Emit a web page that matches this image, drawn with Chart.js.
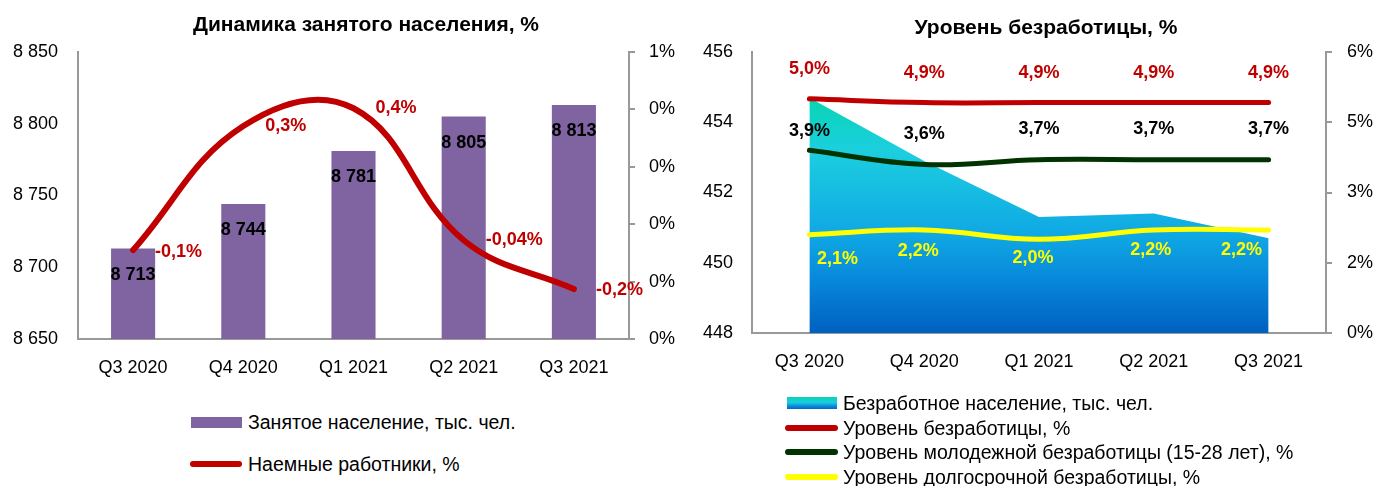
<!DOCTYPE html>
<html>
<head>
<meta charset="utf-8">
<script src="https://cdn.jsdelivr.net/npm/chart.js@4.4.1/dist/chart.umd.min.js"></script>
<style>
    body { margin: 0; background: #fff; font-family: 'Liberation Sans', Arial, sans-serif; }
    #wrap { position: relative; width: 1377px; height: 486px; overflow: hidden; }
    canvas { position: absolute; top: 0; }
    .title { position: absolute; font-weight: bold; font-size: 21px; line-height: 24px; white-space: nowrap; transform: translateX(-50%); }
    .leg { position: absolute; font-size: 19.5px; line-height: 22px; white-space: nowrap; }
    .sw { position: absolute; }
</style>
</head>
<body>
<div id="wrap">
    <canvas id="leftChart" width="690" height="400" style="left:0"></canvas>
    <canvas id="rightChart" width="687" height="400" style="left:690px"></canvas>

    <div class="title" style="left:366px; top:12px">Динамика занятого населения, %</div>
    <div class="title" style="left:1046px; top:15px">Уровень безработицы, %</div>

    <div class="sw" style="left:191px; top:417px; width:51px; height:11px; background:#8064A2"></div>
    <div class="leg" style="left:248px; top:411px">Занятое население, тыс. чел.</div>
    <div class="sw" style="left:190px; top:461px; width:52px; height:6px; border-radius:3px; background:#C00000"></div>
    <div class="leg" style="left:248px; top:453px">Наемные работники, %</div>

    <div class="sw" style="left:787px; top:397px; width:50px; height:12px; background:linear-gradient(#05D5B0, #1CCBE0 45%, #0A8FDD 75%, #0062C4)"></div>
    <div class="leg" style="left:843px; top:392px">Безработное население, тыс. чел.</div>
    <div class="sw" style="left:785px; top:425px; width:53px; height:6px; border-radius:3px; background:#C00000"></div>
    <div class="leg" style="left:843px; top:417px">Уровень безработицы, %</div>
    <div class="sw" style="left:785px; top:449px; width:53px; height:6px; border-radius:3px; background:#003300"></div>
    <div class="leg" style="left:843px; top:441px">Уровень молодежной безработицы (15-28 лет), %</div>
    <div class="sw" style="left:785px; top:474px; width:53px; height:6px; border-radius:3px; background:#FFFF00"></div>
    <div class="leg" style="left:843px; top:466px">Уровень долгосрочной безработицы, %</div>
</div>

<script>
    // categories
    var quarters = ['Q3 2020', 'Q4 2020', 'Q1 2021', 'Q2 2021', 'Q3 2021'];

    // left chart: employed population (thousand people) and hired workers line
    var employed = [8713, 8744, 8781, 8805, 8813];
    var hiredLine = [0.155, 0.371, 0.402, 0.172, 0.087];
    var hiredLabels = ['-0,1%', '0,3%', '0,4%', '-0,04%', '-0,2%'];

    // right chart: unemployed population (thousand people) and rates, %
    var unemployed = [454.7, 452.9, 451.3, 451.4, 450.7];
    var unempRate = [5.0, 4.92, 4.92, 4.92, 4.92];
    var youthRate = [3.9, 3.6, 3.7, 3.7, 3.7];
    var longRate = [2.1, 2.2, 2.0, 2.2, 2.2];

    Chart.defaults.font.family = "'Liberation Sans', Arial, sans-serif";
    Chart.defaults.color = '#000';

    var AXIS = '#999999';

    function spaced(v) {
        return String(v).replace(/\B(?=(\d{3})+(?!\d))/g, ' ');
    }
    function pct(v) {
        return v.toFixed(1).replace('.', ',') + '%';
    }
    function fixWidth(w) {
        return function(scale) { scale.width = w; };
    }
    function fixHeight(h) {
        return function(scale) { scale.height = h; };
    }

    // draws the value labels next to bars / points
    var valueLabels = {
        id: 'valueLabels',
        afterDatasetsDraw: function(chart) {
            var ctx = chart.ctx;
            chart.data.datasets.forEach(function(ds, i) {
                if (!ds.labelText) return;
                var meta = chart.getDatasetMeta(i);
                meta.data.forEach(function(el, j) {
                    var x = el.x, y = el.y;
                    ctx.save();
                    ctx.font = 'bold 18px "Liberation Sans", Arial, sans-serif';
                    ctx.fillStyle = ds.labelColor;
                    ctx.textBaseline = 'middle';
                    ctx.textAlign = 'center';
                    if (ds.labelPos === 'right') {
                        ctx.textAlign = 'left';
                        x += 22;
                    }
                    if (ds.labelDx) x += ds.labelDx[j];
                    if (ds.labelDy) y += ds.labelDy[j];
                    ctx.fillText(ds.labelText[j], x, y);
                    ctx.restore();
                });
            });
        }
    };

    new Chart(document.getElementById('leftChart'), {
        type: 'bar',
        data: {
            labels: quarters,
            datasets: [
                {
                    type: 'line',
                    label: 'Наемные работники, %',
                    data: hiredLine,
                    yAxisID: 'y1',
                    borderColor: '#C00000',
                    borderWidth: 6,
                    borderCapStyle: 'round',
                    pointRadius: 0,
                    tension: 0.4,
                    labelText: hiredLabels,
                    labelColor: '#C00000',
                    labelPos: 'right',
                    labelDy: [2, 0, 0, 0, 1]
                },
                {
                    label: 'Занятое население, тыс. чел.',
                    data: employed,
                    yAxisID: 'y',
                    backgroundColor: '#8064A2',
                    categoryPercentage: 1,
                    barPercentage: 0.4,
                    labelText: employed.map(spaced),
                    labelColor: '#000',
                    labelDy: [26, 26, 26, 26, 26]
                }
            ]
        },
        options: {
            responsive: false,
            animation: false,
            layout: { padding: { top: 52, left: 0, right: 0, bottom: 0 } },
            plugins: { legend: { display: false }, tooltip: { enabled: false } },
            scales: {
                x: {
                    offset: true,
                    grid: { display: false, drawTicks: false },
                    border: { color: AXIS, width: 2 },
                    ticks: { font: { size: 18 }, padding: 18 },
                    afterFit: fixHeight(61)
                },
                y: {
                    position: 'left',
                    min: 8650,
                    max: 8850,
                    ticks: { stepSize: 50, font: { size: 18 }, padding: 20, callback: spaced },
                    grid: { display: false, drawTicks: false },
                    border: { color: AXIS, width: 2 },
                    afterFit: fixWidth(78)
                },
                y1: {
                    position: 'right',
                    min: 0,
                    max: 0.5,
                    ticks: { stepSize: 0.1, font: { size: 18 }, padding: 14, callback: function(v) { return Math.round(v) + '%'; } },
                    grid: { display: true, drawOnChartArea: false, drawTicks: true, tickLength: 6, color: AXIS, lineWidth: 2 },
                    border: { color: AXIS, width: 2 },
                    afterFit: fixWidth(61)
                }
            }
        },
        plugins: [valueLabels]
    });

    new Chart(document.getElementById('rightChart'), {
        type: 'line',
        data: {
            labels: quarters,
            datasets: [
                {
                    label: 'Уровень безработицы, %',
                    data: unempRate,
                    yAxisID: 'y1',
                    borderColor: '#C00000',
                    borderWidth: 5,
                    borderCapStyle: 'round',
                    pointRadius: 0,
                    tension: 0.4,
                    order: 1,
                    labelText: unempRate.map(pct),
                    labelColor: '#C00000',
                    labelDy: [-30, -30, -30, -30, -30]
                },
                {
                    label: 'Уровень молодежной безработицы (15-28 лет), %',
                    data: youthRate,
                    yAxisID: 'y1',
                    borderColor: '#003300',
                    borderWidth: 5,
                    borderCapStyle: 'round',
                    pointRadius: 0,
                    tension: 0.4,
                    order: 2,
                    labelText: youthRate.map(pct),
                    labelColor: '#000',
                    labelDy: [-19, -30, -31, -31, -31]
                },
                {
                    label: 'Уровень долгосрочной безработицы, %',
                    data: longRate,
                    yAxisID: 'y1',
                    borderColor: '#FFFF00',
                    borderWidth: 5,
                    borderCapStyle: 'round',
                    pointRadius: 0,
                    tension: 0.4,
                    order: 3,
                    labelText: longRate.map(pct),
                    labelColor: '#FFFF00',
                    labelDx: [28, -6, -6, -3, -27],
                    labelDy: [24, 21, 19, 20, 20]
                },
                {
                    label: 'Безработное население, тыс. чел.',
                    data: unemployed,
                    yAxisID: 'y',
                    fill: 'start',
                    borderWidth: 0,
                    pointRadius: 0,
                    tension: 0,
                    order: 10,
                    backgroundColor: function(c) {
                        var a = c.chart.chartArea;
                        if (!a) return '#1CCBE0';
                        var g = c.chart.ctx.createLinearGradient(0, a.top, 0, a.bottom);
                        g.addColorStop(0.15, '#05D5B0');
                        g.addColorStop(0.35, '#1CCFDF');
                        g.addColorStop(0.65, '#0FA8E4');
                        g.addColorStop(0.82, '#0786DA');
                        g.addColorStop(1, '#0060C0');
                        return g;
                    }
                }
            ]
        },
        options: {
            responsive: false,
            animation: false,
            layout: { padding: { top: 52, left: 0, right: 0, bottom: 0 } },
            plugins: { legend: { display: false }, tooltip: { enabled: false } },
            scales: {
                x: {
                    offset: true,
                    grid: { display: false, drawTicks: false },
                    border: { color: AXIS, width: 2 },
                    ticks: { font: { size: 18 }, padding: 18 },
                    afterFit: fixHeight(67)
                },
                y: {
                    position: 'left',
                    min: 448,
                    max: 456,
                    ticks: { stepSize: 2, font: { size: 18 }, padding: 19 },
                    grid: { display: false, drawTicks: false },
                    border: { color: AXIS, width: 2 },
                    afterFit: fixWidth(62)
                },
                y1: {
                    position: 'right',
                    min: 0,
                    max: 6,
                    ticks: { stepSize: 1.5, font: { size: 18 }, padding: 15, callback: function(v) { return Math.round(v) + '%'; } },
                    grid: { display: true, drawOnChartArea: false, drawTicks: true, tickLength: 6, color: AXIS, lineWidth: 2 },
                    border: { color: AXIS, width: 2 },
                    afterFit: fixWidth(51)
                }
            }
        },
        plugins: [valueLabels]
    });
</script>
</body>
</html>
